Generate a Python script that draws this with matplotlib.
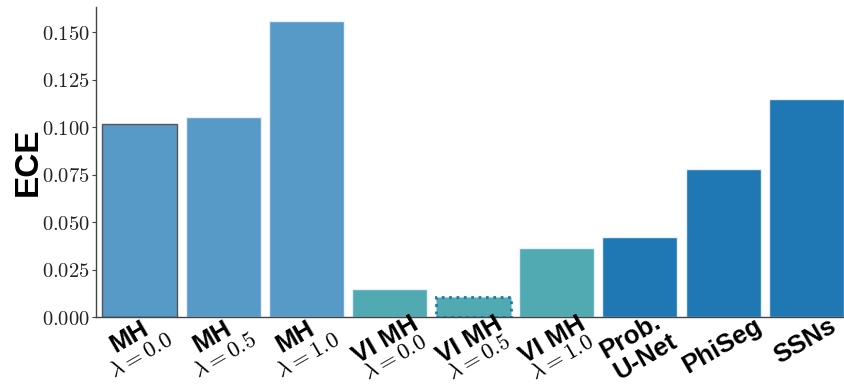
import numpy as np
import matplotlib
matplotlib.use("Agg")
import matplotlib.pyplot as plt
from matplotlib.ticker import FuncFormatter, MultipleLocator

OUTPUT_PATH = "out.png"

# methods and their expected calibration error
NAMES = ["MH", "MH", "MH", "VI MH", "VI MH", "VI MH", "Prob.\nU-Net", "PhiSeg", "SSNs"]
LAMBDAS = ["0.0", "0.5", "1.0", "0.0", "0.5", "1.0", None, None, None]
ECE = [0.1019, 0.1054, 0.1557, 0.0151, 0.0107, 0.0367, 0.0421, 0.0779, 0.1147]
GROUPS = ["mh", "mh", "mh", "vi", "vi", "vi", "base", "base", "base"]

COLORS = {"mh": "#5799C7", "vi": "#51A9B2", "base": "#1F77B4"}

# where each label line sits, in pixels from the tick at the x axis
NAME_OFFSET = {"mh": (-11, -20), "vi": (-4, -23)}
LAMBDA_OFFSET = {"mh": (1, -38), "vi": (5, -40)}
SINGLE_OFFSET = {"PhiSeg": (-1, -28), "SSNs": (-2, -24)}
MULTI_OFFSET = [(-10, -19), (6, -39)]

plt.rcParams["mathtext.fontset"] = "cm"
plt.rcParams["font.family"] = ["Liberation Sans", "DejaVu Sans"]


def put_label(ax, i, text, offset, **kw):
    ax.annotate(text, xy=(i, 0), xycoords=("data", "axes fraction"),
                xytext=offset, textcoords="offset pixels",
                rotation=30, rotation_mode="anchor", ha="center", va="center",
                annotation_clip=False, **kw)


def plot():
    fig = plt.figure(figsize=(8.44, 3.85), dpi=100)
    ax = fig.add_axes([0.1134, 0.1758, 0.8866, 0.8070])

    x = np.arange(len(ECE))
    bars = ax.bar(x, ECE, width=0.9, color=[COLORS[g] for g in GROUPS],
                  edgecolor="#e8f0f6", linewidth=1.0)

    # highlight the reference run and the chosen VI setting
    bars[0].set_edgecolor("#555555")
    bars[0].set_linewidth(1.0)
    bars[4].set_edgecolor("#1F77B4")
    bars[4].set_linestyle(":")
    bars[4].set_linewidth(2.0)

    ax.set_xticks(x)
    ax.set_xticklabels([])
    ax.tick_params(axis="x", length=0)

    bold = dict(fontsize=18.5, fontweight="bold", color="black")
    for i, (name, lam, grp) in enumerate(zip(NAMES, LAMBDAS, GROUPS)):
        if lam is not None:
            put_label(ax, i, name, NAME_OFFSET[grp], **bold)
            put_label(ax, i, r"$\lambda=" + lam + "$", LAMBDA_OFFSET[grp],
                      fontsize=16.5, color="black")
        elif "\n" in name:
            for part, off in zip(name.split("\n"), MULTI_OFFSET):
                put_label(ax, i, part, off, **bold)
        else:
            put_label(ax, i, name, SINGLE_OFFSET[name], **bold)

    ax.set_xlim(-0.53, 8.45)
    ax.set_ylim(0, 0.1635)
    ax.yaxis.set_major_locator(MultipleLocator(0.025))
    ax.yaxis.set_major_formatter(FuncFormatter(lambda v, _: f"${v:.3f}$"))
    ax.tick_params(axis="y", labelsize=14.8, length=3, width=0.8,
                   color="#444444", labelcolor="#222222", pad=1)

    ax.set_ylabel("ECE", fontsize=24, fontweight="bold")
    ax.yaxis.set_label_coords(-0.07, 0.5)

    for side in ["top", "right"]:
        ax.spines[side].set_visible(False)
    for side in ["left", "bottom"]:
        ax.spines[side].set_color("#444444")
        ax.spines[side].set_linewidth(1.0)

    fig.savefig(OUTPUT_PATH, dpi=100)


plot()
